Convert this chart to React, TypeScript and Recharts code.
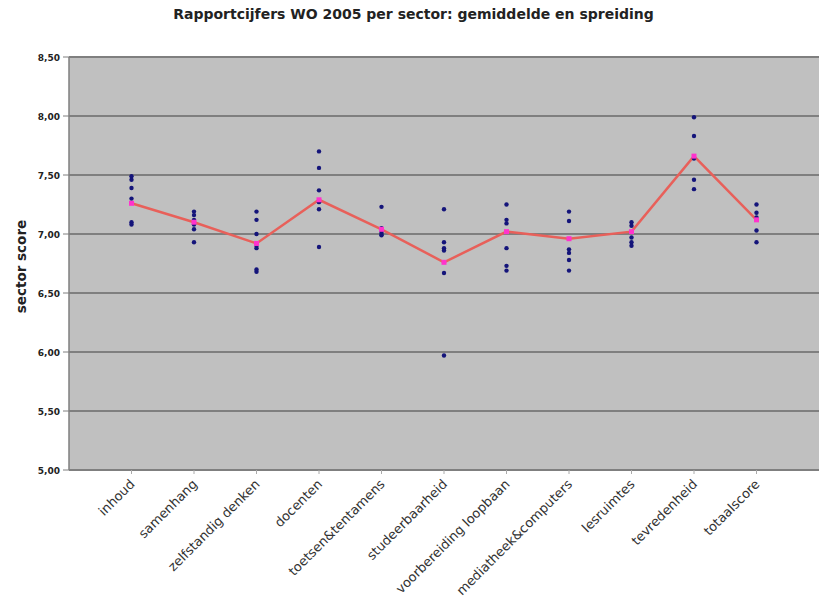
import React from 'react';
import { ComposedChart, XAxis, YAxis, CartesianGrid, Line, Scatter } from 'recharts';

const categories = ['inhoud', 'samenhang', 'zelfstandig denken', 'docenten', 'toetsen&tentamens', 'studeerbaarheid', 'voorbereiding loopbaan', 'mediatheek&computers', 'lesruimtes', 'tevredenheid', 'totaalscore'];
const means = [7.26, 7.10, 6.92, 7.29, 7.04, 6.76, 7.02, 6.96, 7.02, 7.66, 7.12];
const spreadInhoud = [7.49, 7.46, 7.39, 7.30, 7.10, 7.08];
const spreadSamenhang = [7.19, 7.16, 7.12, 7.08, 7.04, 6.93];
const spreadZelfstandig = [7.19, 7.12, 7.00, 6.90, 6.88, 6.70, 6.68];
const spreadDocenten = [7.70, 7.56, 7.37, 7.27, 7.21, 6.89];
const spreadToetsen = [7.23, 7.05, 7.02, 7.00, 6.99];
const spreadStudeerbaarheid = [7.21, 6.93, 6.88, 6.86, 6.67, 5.97];
const spreadVoorbereiding = [7.25, 7.12, 7.09, 6.88, 6.73, 6.69];
const spreadMediatheek = [7.19, 7.11, 6.87, 6.84, 6.78, 6.69];
const spreadLesruimtes = [7.10, 7.07, 6.97, 6.93, 6.90];
const spreadTevredenheid = [7.99, 7.83, 7.64, 7.46, 7.38];
const spreadTotaal = [7.25, 7.18, 7.14, 7.03, 6.93];
const yTicks = [5, 5.5, 6, 6.5, 7, 7.5, 8, 8.5];

const spreads = [spreadInhoud, spreadSamenhang, spreadZelfstandig, spreadDocenten, spreadToetsen, spreadStudeerbaarheid, spreadVoorbereiding, spreadMediatheek, spreadLesruimtes, spreadTevredenheid, spreadTotaal];

const meanData = means.map((v, i) => ({ x: i + 1, y: v }));
const spreadData = spreads.flatMap((arr, i) => arr.map((v) => ({ x: i + 1, y: v })));
const xTicks = categories.map((_, i) => i + 1);

const fmt = (v: number) => v.toFixed(2).replace('.', ',');

const XTick = (props: any) => {
  const { x, y, payload } = props;
  const label = categories[payload.value - 1];
  return (
    <text
      transform={`translate(${x + 4},${y + 9}) rotate(-45)`}
      textAnchor="end"
      fontFamily="DejaVu Sans"
      fontSize={13}
      fill="#333"
    >
      {label}
    </text>
  );
};

const YTick = (props: any) => {
  const { x, y, payload } = props;
  return (
    <text x={x - 1} y={y + 3.5} textAnchor="end" fontFamily="DejaVu Sans" fontWeight="bold" fontSize={9} fill="#222">
      {fmt(payload.value)}
    </text>
  );
};

const Dot = (props: any) => {
  const { cx, cy } = props;
  if (cx == null || cy == null) return null;
  return <circle cx={cx} cy={cy} r={2.2} fill="#14147a" />;
};

const MeanMark = (props: any) => {
  const { cx, cy, index } = props;
  if (cx == null || cy == null) return null;
  return <rect key={`m${index}`} x={cx - 2.5} y={cy - 2.5} width={5} height={5} fill="#ff33cc" />;
};

const YLabel = (props: any) => {
  const vb = props.viewBox || { x: 9, y: 57, width: 60, height: 413 };
  const cx = 21;
  const cy = vb.y + vb.height / 2 + 3;
  return (
    <text
      transform={`translate(${cx},${cy}) rotate(-90)`}
      textAnchor="middle"
      dominantBaseline="central"
      fontFamily="DejaVu Sans"
      fontWeight="bold"
      fontSize={13.5}
      fill="#222"
    >
      sector score
    </text>
  );
};

export default function App() {
  return (
    <div style={{ position: 'absolute', left: 0, top: 0, width: 819, height: 601, background: '#fff' }}>
      <div
        style={{
          position: 'absolute',
          left: 0,
          top: 6,
          width: 827,
          textAlign: 'center',
          fontFamily: 'DejaVu Sans',
          fontWeight: 'bold',
          fontSize: 14,
          color: '#222',
          lineHeight: '16px',
        }}
      >
        Rapportcijfers WO 2005 per sector: gemiddelde en spreiding
      </div>
      <ComposedChart width={819} height={601} margin={{ top: 57, right: 0, bottom: 101, left: 9 }}>
        <CartesianGrid vertical={false} horizontal={true} fill="#c0c0c0" stroke="#7f7f7f" strokeWidth={2} fillOpacity={1} />
        <XAxis
          type="number"
          dataKey="x"
          domain={[0, 12]}
          ticks={xTicks}
          interval={0}
          height={30}
          tick={<XTick />}
          tickLine={{ stroke: '#aaa' }}
          tickSize={4}
          axisLine={{ stroke: '#7f7f7f', strokeWidth: 2 }}
          allowDecimals={false}
        />
        <YAxis
          type="number"
          domain={[5, 8.5]}
          ticks={yTicks}
          width={60}
          tick={<YTick />}
          tickLine={{ stroke: '#7f7f7f' }}
          tickSize={6}
          axisLine={{ stroke: '#7f7f7f', strokeWidth: 1.5 }}
          label={<YLabel />}
          interval={0}
        />
        <Scatter data={spreadData} dataKey="y" shape={<Dot />} isAnimationActive={false} />
        <Line
          data={meanData}
          dataKey="y"
          type="linear"
          stroke="#e8605a"
          strokeWidth={2.5}
          dot={<MeanMark />}
          activeDot={false}
          isAnimationActive={false}
        />
      </ComposedChart>
    </div>
  );
}
